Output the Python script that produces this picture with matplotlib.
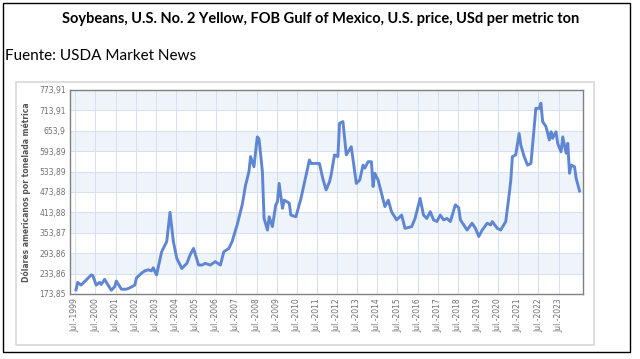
import matplotlib.pyplot as plt
from matplotlib.patches import Rectangle
import pandas as pd

# monthly readings, USD per metric ton
months = [
    "1999-07", "1999-08", "1999-10", "2000-01", "2000-04", "2000-05", "2000-07", "2000-09",
    "2000-10", "2000-12", "2001-02", "2001-04", "2001-06", "2001-07", "2001-10", "2002-01",
    "2002-03", "2002-06", "2002-07", "2002-10", "2002-12", "2003-02", "2003-04", "2003-05",
    "2003-07", "2003-10", "2004-01", "2004-03", "2004-05", "2004-07", "2004-10", "2005-01",
    "2005-03", "2005-05", "2005-08", "2005-10", "2005-12", "2006-03", "2006-06", "2006-09",
    "2006-11", "2007-02", "2007-04", "2007-07", "2007-10", "2007-12", "2008-02", "2008-03",
    "2008-05", "2008-07", "2008-08", "2008-10", "2008-11", "2009-01", "2009-02", "2009-04",
    "2009-06", "2009-07", "2009-08", "2009-10", "2009-11", "2010-02", "2010-03", "2010-06",
    "2010-09", "2011-02", "2011-03", "2011-08", "2011-10", "2011-12", "2012-02", "2012-03",
    "2012-05", "2012-07", "2012-08", "2012-10", "2012-12", "2013-03", "2013-06", "2013-08",
    "2013-10", "2013-11", "2014-01", "2014-03", "2014-04", "2014-05", "2014-07", "2014-09",
    "2014-11", "2015-01", "2015-03", "2015-06", "2015-09", "2015-11", "2016-03", "2016-05",
    "2016-08", "2016-10", "2016-12", "2017-02", "2017-04", "2017-06", "2017-08", "2017-10",
    "2017-12", "2018-02", "2018-05", "2018-07", "2018-08", "2018-10", "2018-12", "2019-03",
    "2019-05", "2019-07", "2019-09", "2019-12", "2020-02", "2020-03", "2020-06", "2020-08",
    "2020-11", "2021-01", "2021-02", "2021-03", "2021-05", "2021-07", "2021-08", "2021-10",
    "2021-12", "2022-02", "2022-05", "2022-07", "2022-08", "2022-09", "2022-11", "2023-01",
    "2023-02", "2023-03", "2023-05", "2023-06", "2023-08", "2023-09", "2023-11", "2023-12",
    "2024-01", "2024-02", "2024-04", "2024-05", "2024-07",
]
prices = [
    186, 208, 200, 215, 230, 228, 200, 208,
    202, 217, 200, 185, 195, 212, 188, 188,
    192, 200, 221, 235, 242, 245, 242, 251,
    230, 298, 328, 414, 328, 279, 249, 264,
    289, 308, 259, 259, 264, 259, 269, 259,
    298, 308, 328, 377, 436, 494, 534, 578,
    548, 636, 630, 534, 396, 362, 401, 372,
    436, 445, 499, 426, 450, 441, 406, 401,
    455, 568, 558, 558, 514, 480, 504, 524,
    583, 578, 676, 681, 583, 607, 499, 509,
    553, 544, 563, 563, 490, 529, 509, 470,
    431, 450, 416, 392, 406, 367, 372, 396,
    455, 406, 396, 416, 392, 387, 406, 392,
    396, 387, 436, 428, 392, 377, 362, 382,
    367, 343, 362, 382, 377, 387, 367, 362,
    387, 465, 509, 578, 583, 646, 612, 578,
    553, 558, 720, 720, 735, 681, 666, 627,
    651, 632, 651, 617, 592, 636, 588, 617,
    529, 553, 548, 514, 477,
]

yticks = [173.85, 233.86, 293.86, 353.87, 413.88, 473.88, 533.89, 593.89, 653.9, 713.91, 773.91]
ytick_labels = ["173,85", "233,86", "293,86", "353,87", "413,88", "473,88",
                "533,89", "593,89", "653,9", "713,91", "773,91"]
tick_years = list(range(1999, 2024))

title = "Soybeans, U.S. No. 2 Yellow, FOB Gulf of Mexico, U.S. price, USd per metric ton"
source = "Fuente: USDA Market News"
ylabel = "Dólares americanos por tonelada métrica"

dates = pd.to_datetime(months) + pd.Timedelta(days=14)

W, H = 640, 359
fig = plt.figure(figsize=(6.4, 3.59), dpi=100)

# outer frame and inner chart panel
fig.add_artist(Rectangle((3 / W, 1 - 352 / H), 627 / W, 349 / H, transform=fig.transFigure,
                         fill=False, edgecolor="black", linewidth=1.0))
fig.add_artist(Rectangle((16 / W, 1 - 345 / H), 578 / W, 263 / H, transform=fig.transFigure,
                         fill=False, edgecolor="#d8d8d8", linewidth=1.2))

fig.text(321 / W, 1 - 19 / H, title, ha="center", va="center",
         fontsize=10.5, fontweight="bold", family="Lato")
fig.text(5 / W, 1 - 56 / H, source, ha="left", va="center", fontsize=11, family="Lato")

ax = fig.add_axes([70 / W, 1 - 294 / H, 513 / W, 204 / H])

# alternating horizontal bands
for i in range(1, len(yticks) - 1, 2):
    ax.axhspan(yticks[i], yticks[i + 1], color="#eff3fa", zorder=0, linewidth=0)

ax.plot(dates, prices, color="#5f86d3", linewidth=2.1, solid_joinstyle="round", zorder=3)

ax.set_ylim(yticks[0], yticks[-1])
ax.set_xlim(pd.Timestamp("1999-03-28"), pd.Timestamp("2024-09-16"))
ax.set_yticks(yticks)
ax.set_yticklabels(ytick_labels)
xt = [pd.Timestamp(f"{y}-07-01") for y in tick_years]
ax.set_xticks(xt)
ax.set_xticklabels([f"Jul.-{y}" for y in tick_years], rotation=90)
ax.grid(True, color="#d6e0f3", linewidth=0.7, zorder=1)
ax.tick_params(axis="both", length=0, labelsize=5.5, labelcolor="#707070", pad=3)
for s in ax.spines.values():
    s.set_color("#808080")
    s.set_linewidth(1.0)

ax.set_ylabel(ylabel, fontsize=5.5, fontweight="bold", color="#555555", labelpad=6)

fig.savefig("out.png", dpi=100)
